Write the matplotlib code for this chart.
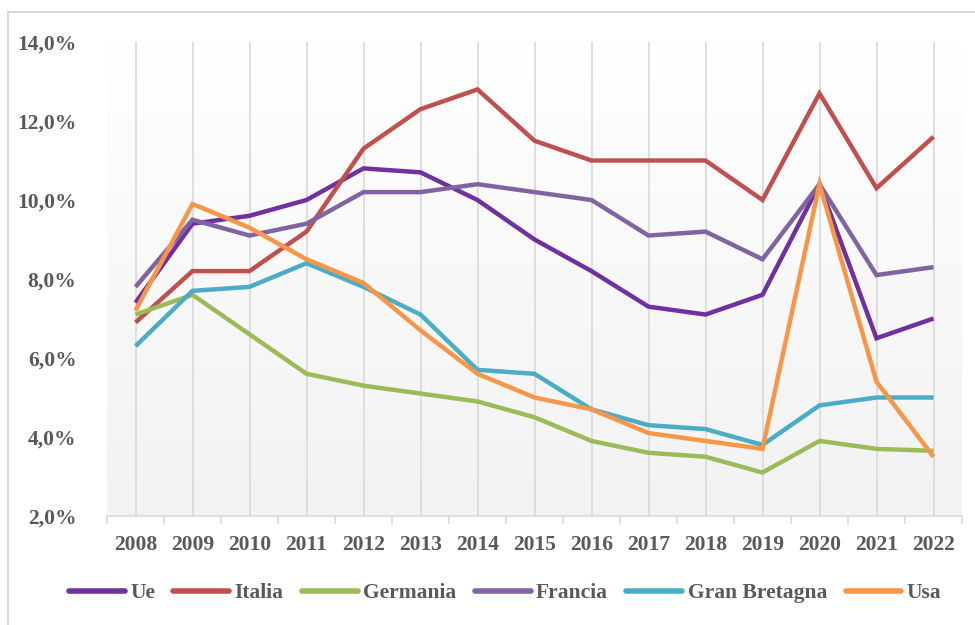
import numpy as np
import matplotlib
matplotlib.use("Agg")
import matplotlib.pyplot as plt
from matplotlib.patches import Rectangle
from matplotlib.ticker import FixedLocator, FuncFormatter

years = [2008, 2009, 2010, 2011, 2012, 2013, 2014, 2015,
         2016, 2017, 2018, 2019, 2020, 2021, 2022]

ue = [7.4, 9.4, 9.6, 10.0, 10.8, 10.7, 10.0, 9.0, 8.2, 7.3, 7.1, 7.6, 10.4, 6.5, 7.0]
italia = [6.9, 8.2, 8.2, 9.2, 11.3, 12.3, 12.8, 11.5, 11.0, 11.0, 11.0, 10.0, 12.7, 10.3, 11.6]
germania = [7.1, 7.6, 6.6, 5.6, 5.3, 5.1, 4.9, 4.5, 3.9, 3.6, 3.5, 3.1, 3.9, 3.7, 3.65]
francia = [7.8, 9.5, 9.1, 9.4, 10.2, 10.2, 10.4, 10.2, 10.0, 9.1, 9.2, 8.5, 10.4, 8.1, 8.3]
gran_bretagna = [6.3, 7.7, 7.8, 8.4, 7.8, 7.1, 5.7, 5.6, 4.7, 4.3, 4.2, 3.8, 4.8, 5.0, 5.0]
usa = [7.2, 9.9, 9.3, 8.5, 7.9, 6.7, 5.6, 5.0, 4.7, 4.1, 3.9, 3.7, 10.4, 5.4, 3.5]

series = ["Ue", "Italia", "Germania", "Francia", "Gran Bretagna", "Usa"]
colors = ["#7030A0", "#C0504D", "#9BBB59", "#8064A2", "#4BACC6", "#F79646"]

plt.rcParams['font.family'] = ['Liberation Serif', 'DejaVu Serif']
txt = '#595959'
grid = '#d9d9d9'

fig = plt.figure(figsize=(9.75, 6.25), dpi=100)
ax = fig.add_axes([107 / 975, 1 - 516 / 625, (962 - 107) / 975, (516 - 42) / 625])

# outer chart border
fig.patches.append(Rectangle((8 / 975, -0.05), 1.0, 1 - 12 / 625 + 0.05,
                             transform=fig.transFigure, fill=False,
                             ec='#d9d9d9', lw=1.5, zorder=0))

x = np.arange(len(years))
ax.set_xlim(-0.5, len(years) - 0.5)
ax.set_ylim(2, 14)

# gradient background of plot area
grad = np.linspace(0, 1, 256).reshape(-1, 1)
ax.imshow(grad, cmap=matplotlib.colors.LinearSegmentedColormap.from_list(
    'bg', ['#f2f2f2', '#ffffff']), origin='lower', aspect='auto',
    extent=(-0.5, len(years) - 0.5, 2, 14), zorder=0)

for xi in x:
    ax.axvline(xi, color=grid, lw=1.2, zorder=1)

data = [ue, italia, germania, francia, gran_bretagna, usa]
for name, vals, c in zip(series, data, colors):
    ax.plot(x, vals, color=c, lw=3.2, label=name, zorder=3,
            solid_joinstyle='miter', solid_capstyle='butt')

ax.xaxis.set_major_locator(FixedLocator(np.arange(-0.5, len(years), 1.0)))
ax.set_xticklabels([])
ax.set_xticks(x, minor=True)
ax.set_xticklabels([str(y) for y in years], minor=True)
ax.tick_params(axis='x', which='major', length=6, color=grid, width=1.2)
ax.tick_params(axis='x', which='minor', length=0, pad=14,
               labelsize=15.5, labelcolor=txt)

ax.set_yticks([2, 4, 6, 8, 10, 12, 14])
ax.yaxis.set_major_formatter(FuncFormatter(lambda v, p: f"{v:.1f}%".replace('.', ',')))
ax.tick_params(axis='y', length=0, pad=22, labelsize=15.5, labelcolor=txt)

for lab in ax.get_xticklabels(minor=True) + ax.get_yticklabels():
    lab.set_fontweight('bold')

for s in ['left', 'right', 'top']:
    ax.spines[s].set_visible(False)
ax.spines['bottom'].set_color(grid)
ax.spines['bottom'].set_linewidth(1.2)

leg = fig.legend(loc='center', bbox_to_anchor=(0.518, 1 - 593 / 625), ncol=6,
                 frameon=False, handlelength=2.6, handletextpad=0.25,
                 columnspacing=0.85, prop={'size': 15.5, 'weight': 'bold'})
for t in leg.get_texts():
    t.set_color(txt)
for h in leg.get_lines():
    h.set_linewidth(4)
    h.set_solid_capstyle('round')

fig.savefig('out.png', dpi=100)
